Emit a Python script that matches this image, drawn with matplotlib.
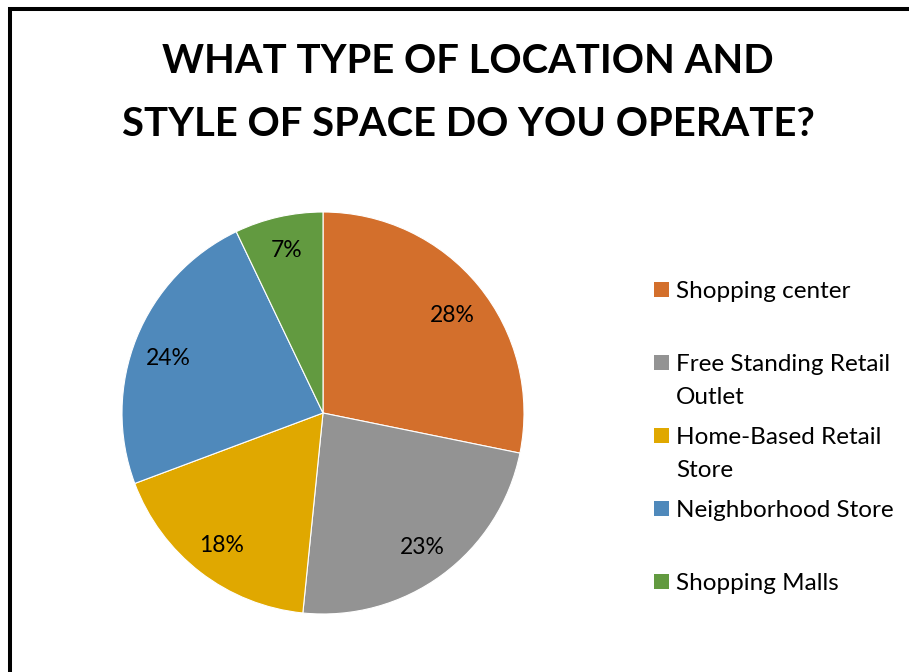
import matplotlib.pyplot as plt
from matplotlib.patches import Rectangle

# data
labels = ['Shopping center', 'Free Standing Retail\nOutlet', 'Home-Based Retail\nStore',
          'Neighborhood Store', 'Shopping Malls']
shares = [28.2, 23.4, 17.7, 23.6, 7.1]
colors = ['#D36F2C', '#939393', '#E0A800', '#4F89BB', '#629A40']
title = 'WHAT TYPE OF LOCATION AND\nSTYLE OF SPACE DO YOU OPERATE?'

W, H = 909, 672
fig = plt.figure(figsize=(W / 100, H / 100), dpi=100)
fig.patch.set_facecolor('white')
font = 'Lato'

# outer chart frame (runs off right/bottom edge)
fig.patches.append(Rectangle((10 / W, -0.2), 1.2, 1.2 - 9 / H,
                             transform=fig.transFigure, fill=False,
                             edgecolor='black', linewidth=2.9))

fig.text(468 / W, 1 - 93 / H, title, ha='center', va='center',
         fontsize=28.8, fontweight='bold', family=font, linespacing=1.84)

# pie
cx, cy, r = 323, 413, 201
ax = fig.add_axes([(cx - r) / W, (H - cy - r) / H, 2 * r / W, 2 * r / H])
wedges, texts, autotexts = ax.pie(
    shares, colors=colors, startangle=90, counterclock=False, radius=1,
    autopct='%.0f%%', pctdistance=0.83,
    wedgeprops=dict(edgecolor='white', linewidth=0.8),
    textprops=dict(fontsize=16.5, family=font, color='black'))
ax.set_xlim(-1, 1)
ax.set_ylim(-1, 1)
# Excel's best-fit nudges these two a little lower
for t in (autotexts[0], autotexts[3]):
    x, y = t.get_position()
    t.set_position((x, y - 0.04))

# legend, drawn by hand the way Excel lays it out
y0, dy = 290, 72.8
for i, (lab, c) in enumerate(zip(labels, colors)):
    y = y0 + i * dy
    fig.patches.append(Rectangle((654 / W, 1 - (y + 7.5) / H), 15 / W, 15 / H,
                                 transform=fig.transFigure, facecolor=c,
                                 edgecolor='none'))
    fig.text(676 / W, 1 - (y - 8.5) / H, lab, ha='left', va='top',
             fontsize=17.5, family=font, linespacing=1.71)

fig.savefig('out.png', dpi=100, facecolor='white')
